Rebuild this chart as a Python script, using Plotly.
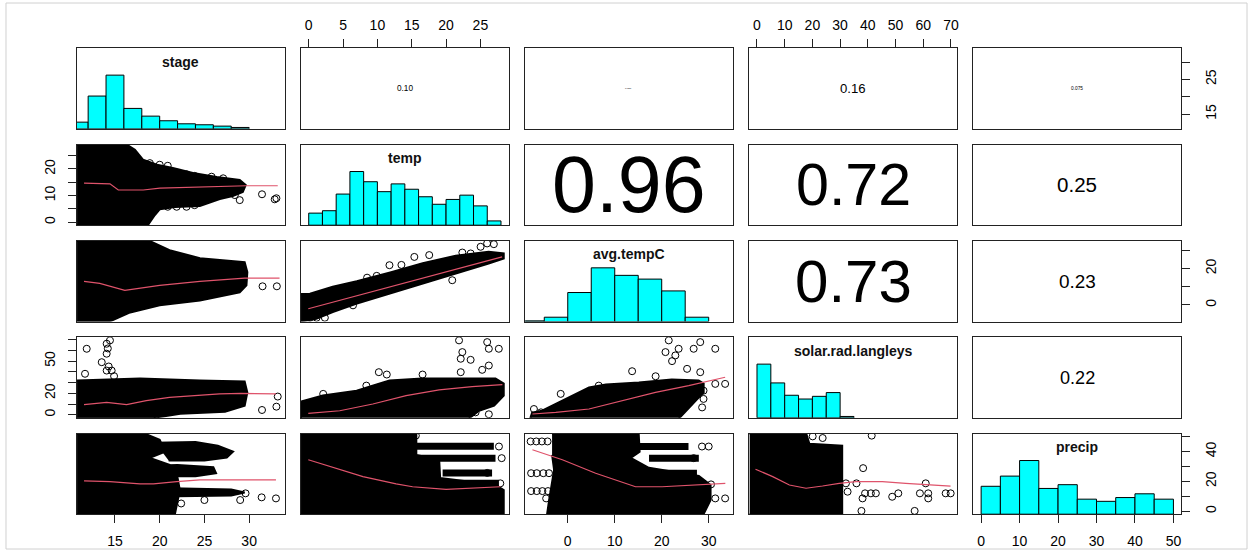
import plotly.graph_objects as go

W, H = 1252, 552
FONT = "Liberation Sans, Arial, sans-serif"

# ---------------- variables ----------------
var_names = ["stage", "temp", "avg.tempC", "solar.rad.langleys", "precip"]
var_min = [11.6, 0.0, -7.43, 0.0, 0.0]
var_max = [33.1, 28.0, 33.5, 69.4, 50.0]

# axis ticks
stage_ticks = [15, 20, 25, 30]
temp_ticks = [0, 5, 10, 15, 20, 25]
avg_ticks = [0, 10, 20, 30]
solar_ticks = [0, 10, 20, 30, 40, 50, 60, 70]
precip_ticks = [0, 10, 20, 30, 40, 50]
# labels that survive R's overlap check on the vertical axes
stage_vlabels = [15, 25]
temp_vlabels = [0, 10, 20]
avg_vlabels = [0, 20]
solar_vlabels = [0, 20, 50]
precip_vlabels = [0, 20, 40]

# ---------------- histograms (heights relative to the tallest bar) ----------------
stage_edges = [10, 12, 14, 16, 18, 20, 22, 24, 26, 28, 30]
stage_hist = [0.124, 0.61, 1.0, 0.38, 0.236, 0.15, 0.093, 0.075, 0.05, 0.025]
temp_edges = [0, 2, 4, 6, 8, 10, 12, 14, 16, 18, 20, 22, 24, 26, 28]
temp_hist = [0.225, 0.27, 0.58, 1.0, 0.81, 0.625, 0.77, 0.67, 0.53, 0.39, 0.48, 0.56, 0.36, 0.08]
avg_edges = [-10, -5, 0, 5, 10, 15, 20, 25, 30]
avg_hist = [0.012, 0.08, 0.54, 1.0, 0.86, 0.79, 0.57, 0.08]
solar_edges = [0, 5, 10, 15, 20, 25, 30, 35]
solar_hist = [1.0, 0.65, 0.42, 0.35, 0.40, 0.47, 0.025]
precip_edges = [0, 5, 10, 15, 20, 25, 30, 35, 40, 45, 50]
precip_hist = [0.52, 0.71, 1.0, 0.48, 0.55, 0.28, 0.24, 0.31, 0.38, 0.28]

# ---------------- correlations (upper panels) ----------------
cor_row = [0, 0, 0, 0, 1, 1, 1, 2, 2, 3]
cor_col = [1, 2, 3, 4, 2, 3, 4, 3, 4, 4]
cor_value = [0.10, 0.038, 0.16, 0.075, 0.96, 0.72, 0.25, 0.73, 0.23, 0.22]
cor_text = ["0.10", "0.038", "0.16", "0.075", "0.96", "0.72", "0.25", "0.73", "0.23", "0.22"]

# ---------------- scatter panels: dense cores, single points, lowess ----------------
# temp vs stage
ts_core_x = [10.76, 16.34, 17.23, 18.13, 19.69, 21.47, 23.71, 26.38, 28.95, 29.62, 29.29, 28.17, 26.72, 24.49, 21.70, 20.02, 19.46, 18.91, 18.68, 10.76]
ts_core_y = [29.1, 29.1, 27.2, 23.5, 21.6, 20.4, 18.5, 17.0, 15.9, 14.0, 11.4, 9.8, 8.7, 6.1, 5.7, 4.9, 2.7, 0.0, -1.1, -1.1]
ts_pts_x = [31.44, 33.05, 32.86, 28.95, 28.4, 27.1, 25.8, 27.1, 25.8, 23.9, 23.0, 20.0, 20.9, 18.9, 16.3, 16.7, 23.9, 23.0, 21.9, 20.9, 26.2, 27.5, 17.4, 16.9]
ts_pts_y = [10.5, 9.0, 8.6, 8.3, 10.2, 10.9, 11.5, 16.5, 17.1, 17.4, 18.0, 21.6, 21.2, 22.2, 27.2, 26.0, 6.4, 5.8, 5.8, 5.8, 13.4, 13.4, 0.8, 2.7]
ts_low_x = [11.54, 14.44, 15.37, 18.16, 20.02, 23.0, 25.6, 28.2, 29.7, 33.2]
ts_low_y = [14.65, 14.4, 12.1, 12.1, 12.8, 13.1, 13.4, 13.7, 13.7, 13.7]

# avg.tempC vs stage
as_core_x = [10.76, 18.9, 21.1, 24.5, 29.5, 29.8, 29.7, 28.95, 24.5, 20.0, 16.7, 14.4, 10.76]
as_core_y = [35.1, 35.1, 30.1, 25.7, 23.5, 18.0, 10.8, 6.9, 2.5, -0.2, -4.1, -9.07, -9.07]
as_pts_x = [31.5, 33.1]
as_pts_y = [10.26, 10.26]
as_low_x = [11.54, 13.3, 16.1, 20.0, 24.5, 29.5, 33.4]
as_low_y = [13.0, 11.9, 8.05, 10.8, 13.0, 14.7, 14.7]

# avg.tempC vs temp
at_core_x = [-1.12, 0.18, 3.5, 7.0, 12.0, 16.6, 21.4, 26.2, 28.4, 28.4, 26.2, 21.4, 16.6, 11.8, 6.9, 3.5, 1.1, -1.12]
at_core_y = [6.0, 6.2, 10.0, 13.0, 18.0, 23.0, 27.0, 29.2, 28.3, 25.5, 22.8, 17.3, 11.8, 6.2, 0.7, -3.9, -7.6, -9.07]
at_pts_x = [0.18, 2.35, 1.15, 6.45, 20.9, 11.76, 15.38, 17.55, 22.37, 23.58, 25.03, 25.98, 26.96, 8.5, 9.9, 13.5]
at_pts_y = [-7.0, -7.0, -7.0, -0.2, 13.6, 21.85, 26.4, 27.4, 28.8, 28.3, 31.96, 33.8, 33.4, 15.0, 16.0, 22.0]
at_low_x = [-0.06, 14.18, 28.16]
at_low_y = [-2.06, 12.3, 26.43]

# solar vs stage
ss_core_x = [10.76, 17.8, 24.5, 29.5, 29.8, 29.5, 27.3, 22.3, 19.5, 10.76]
ss_core_y = [31.9, 33.8, 31.9, 31.0, 20.7, 8.5, 2.9, 1.0, -2.7, -2.7]
ss_pts_x = [11.84, 14.44, 14.07, 14.2, 14.07, 13.52, 14.07, 14.63, 11.65, 33.2, 33.05, 31.44, 19.65, 14.3, 14.9]
ss_pts_y = [61.5, 69.3, 66.2, 61.8, 56.9, 49.0, 41.2, 41.2, 38.2, 17.0, 7.6, 4.5, 0.1, 45.0, 36.0]
ss_low_x = [11.54, 14.07, 16.3, 18.5, 21.1, 23.7, 26.7, 29.1, 33.0]
ss_low_y = [9.5, 11.6, 9.5, 13.2, 16.3, 17.9, 19.5, 20.0, 19.5]

# solar vs temp
st_core_x = [-1.12, -1.12, 2.06, 6.98, 9.3, 11.76, 16.54, 27.2, 28.4, 28.4, 27.0, 24.8, 23.3]
st_core_y = [-3.6, 12.26, 17.9, 22.5, 27.2, 31.9, 33.8, 33.8, 29.1, 17.9, 8.5, 3.8, -3.6]
st_pts_x = [21.89, 25.99, 27.68, 26.23, 22.37, 22.14, 23.58, 10.21, 11.37, 16.58, 22.14, 25.26, 26.23, 2.11, 8.39, 26.23, 24.3, 25.26, 26.71, 27.43]
st_pts_y = [69.3, 67.7, 61.5, 61.5, 58.4, 52.2, 51.2, 39.7, 37.5, 37.5, 39.7, 41.9, 45.9, 19.5, 27.2, 0.5, 2.3, 8.5, 13.2, 25.6]
st_low_x = [-0.06, 4.52, 9.34, 14.18, 19.0, 23.8, 28.2]
st_low_y = [1.3, 3.8, 10.1, 17.9, 23.2, 26.3, 28.2]

# solar vs avg.tempC
sa_core_x = [-8.01, -7.58, -5.46, -2.49, 0.91, 4.52, 8.13, 15.13, 22.14, 27.87, 28.93, 28.93, 27.87, 25.75, 23.63]
sa_core_y = [-3.6, 2.0, 3.8, 10.4, 17.9, 25.4, 28.2, 30.0, 32.9, 31.9, 29.1, 20.7, 16.0, 6.65, -3.6]
sa_pts_x = [21.5, 28.2, 31.4, 26.8, 23.6, 20.8, 22.9, 22.2, 13.7, 18.7, 25.4, 28.2, 6.6, -1.5, 28.9, 31.4, 33.5, 28.9, 28.6, -7.2, -5.7]
sa_pts_y = [69.3, 67.7, 61.5, 61.5, 61.5, 58.4, 55.3, 50.0, 40.6, 35.9, 42.8, 39.7, 27.2, 19.5, 22.5, 28.8, 28.8, 14.8, 6.9, 5.4, 2.3]
sa_low_x = [-7.52, -2.55, 4.52, 11.59, 18.68, 25.75, 33.5]
sa_low_y = [0.76, 2.26, 5.4, 13.2, 20.96, 27.2, 35.0]

# precip vs stage
ps_core_x = [10.76, 18.35, 20.0, 20.6, 18.9, 21.1, 22.0, 22.25, 21.7, 10.76]
ps_core_y = [52.0, 52.0, 48.0, 39.9, 35.8, 31.1, 22.3, 14.2, -2.0, -2.0]
ps_core2_x = [19.5, 24.0, 26.5, 28.2, 27.5, 25.0, 21.0]
ps_core2_y = [46.0, 46.5, 44.0, 40.0, 36.0, 34.0, 34.0]
ps_core3_x = [19.0, 22.0, 26.0, 26.3, 24.0, 20.0]
ps_core3_y = [30.5, 31.0, 29.5, 25.5, 23.5, 23.5]
ps_core4_x = [20.0, 24.0, 28.0, 29.5, 28.0, 22.0, 20.0]
ps_core4_y = [15.5, 15.0, 14.5, 12.5, 10.5, 10.0, 10.5]
ps_pts_x = [31.4, 33.0, 25.0, 29.0, 22.4, 29.6]
ps_pts_y = [9.3, 8.6, 7.5, 7.5, 5.2, 12.0]
ps_low_x = [11.54, 14.44, 17.8, 19.3, 21.9, 24.5, 33.0]
ps_low_y = [20.3, 19.8, 18.3, 18.3, 19.8, 21.0, 21.0]

# precip vs temp
pt_core_x = [-1.12, 15.67, 15.67, 19.0, 19.14, 27.24, 28.4, 28.4, -1.12]
pt_core_y = [52.0, 52.0, 37.8, 34.5, 22.3, 17.6, 14.2, -2.0, -2.0]
pt_band_y = [43.6, 35.6, 25.7, 18.7]
pt_band_x0 = [15.1, 15.1, 19.5, 19.0]
pt_band_x1 = [26.96, 27.2, 26.7, 27.7]
pt_pts_x = [27.9, 27.2, 15.6, 27.7, 28.1, 26.0]
pt_pts_y = [18.7, 10.8, 50.7, 43.4, 35.6, 25.7]
pt_low_x = [-0.06, 3.08, 7.90, 12.73, 15.13, 20.0, 24.8, 27.9]
pt_low_y = [34.5, 29.9, 23.2, 18.3, 16.4, 14.7, 16.0, 16.4]

# precip vs avg.tempC
pa_core_x = [-3.34, 15.1, 15.3, 13.4, 17.26, 27.9, 30.4, 30.4, 28.9, -4.4, -3.97, -3.34, -2.91, -3.34]
pa_core_y = [52.0, 52.0, 39.9, 35.8, 29.1, 23.7, 17.6, 7.45, -2.0, -2.0, 7.45, 20.96, 27.7, 37.8]
pa_band_y = [43.4, 35.6, 25.5]
pa_band_x0 = [15.1, 17.3, 16.55]
pa_band_x1 = [25.7, 27.9, 27.5]
pa_pts_x = [-7.9, -6.7, -5.5, -4.3, -7.8, -6.6, -5.2, -4.0, -7.8, -6.6, -5.4, -4.2, -3.0, -4.6,
            28.57, 30.0, 26.8, 28.6, 31.4, 33.5, 27.9, 30.5]
pa_pts_y = [46.8, 46.8, 46.8, 46.8, 25.5, 25.5, 25.5, 25.5, 13.5, 13.5, 13.5, 13.5, 13.5, 8.6,
            43.4, 43.4, 35.6, 18.7, 8.6, 8.6, 10.8, 18.0]
pa_low_x = [-7.52, -1.15, 5.94, 14.43, 20.08, 23.63, 27.17, 33.54]
pa_low_y = [41.2, 34.5, 25.5, 16.4, 16.4, 16.9, 17.6, 18.7]

# precip vs solar
pr_core_x = [-2.7, 17.8, 18.9, 30.75, 30.75, -2.7]
pr_core_y = [52.0, 52.0, 45.3, 43.9, -2.0, -2.0]
pr_pts_x = [41.4, 38.3, 35.9, 32.1, 32.7, 38.1, 39.0, 41.1, 42.9, 48.8, 51.0, 58.8, 61.8, 61.8, 60.9, 68.1, 69.9, 37.7, 56.9, 20.1, 23.7]
pr_pts_y = [50.7, 28.9, 18.7, 18.7, 13.1, 8.6, 12.0, 12.0, 12.0, 9.7, 12.0, 12.0, 12.0, 8.6, 18.7, 12.0, 12.0, 0.2, 0.2, 50.2, 49.1]
pr_low_x = [-0.54, 5.68, 11.69, 17.7, 23.67, 29.67, 35.68, 45.25, 53.67, 65.65, 69.86]
pr_low_y = [28.2, 23.2, 17.6, 15.4, 16.9, 18.7, 19.8, 19.8, 18.7, 17.6, 16.9]

# ---------------- assemble ----------------
hists = [(stage_edges, stage_hist), (temp_edges, temp_hist), (avg_edges, avg_hist),
         (solar_edges, solar_hist), (precip_edges, precip_hist)]

lower = [
    (1, 0, [(ts_core_x, ts_core_y)], [], (ts_pts_x, ts_pts_y), (ts_low_x, ts_low_y)),
    (2, 0, [(as_core_x, as_core_y)], [], (as_pts_x, as_pts_y), (as_low_x, as_low_y)),
    (2, 1, [(at_core_x, at_core_y)], [], (at_pts_x, at_pts_y), (at_low_x, at_low_y)),
    (3, 0, [(ss_core_x, ss_core_y)], [], (ss_pts_x, ss_pts_y), (ss_low_x, ss_low_y)),
    (3, 1, [(st_core_x, st_core_y)], [], (st_pts_x, st_pts_y), (st_low_x, st_low_y)),
    (3, 2, [(sa_core_x, sa_core_y)], [], (sa_pts_x, sa_pts_y), (sa_low_x, sa_low_y)),
    (4, 0, [(ps_core_x, ps_core_y), (ps_core2_x, ps_core2_y), (ps_core3_x, ps_core3_y), (ps_core4_x, ps_core4_y)],
     [], (ps_pts_x, ps_pts_y), (ps_low_x, ps_low_y)),
    (4, 1, [(pt_core_x, pt_core_y)], list(zip(pt_band_y, pt_band_x0, pt_band_x1)), (pt_pts_x, pt_pts_y), (pt_low_x, pt_low_y)),
    (4, 2, [(pa_core_x, pa_core_y)], list(zip(pa_band_y, pa_band_x0, pa_band_x1)), (pa_pts_x, pa_pts_y), (pa_low_x, pa_low_y)),
    (4, 3, [(pr_core_x, pr_core_y)], [], (pr_pts_x, pr_pts_y), (pr_low_x, pr_low_y)),
]

col_left = [77, 301.5, 526, 750.5, 975]
row_top = [48.3, 144.7, 241, 337.3, 433.7]
PW, PH = 208, 80.5


def rng(v):
    d = (var_max[v] - var_min[v]) * 0.04
    return [var_min[v] - d, var_max[v] + d]


def sfx(k):
    return "" if k == 1 else str(k)


def ax_ids(i, j):
    k = i * 5 + j + 1
    return "x" + sfx(k), "y" + sfx(k)


fig = go.Figure()
LOWESS = "#DF536B"

# diagonal histograms
for v, (edges, h) in enumerate(hists):
    xa, ya = ax_ids(v, v)
    centers = [(edges[n] + edges[n + 1]) / 2 for n in range(len(h))]
    widths = [edges[n + 1] - edges[n] for n in range(len(h))]
    fig.add_trace(go.Bar(x=centers, y=h, width=widths, xaxis=xa, yaxis=ya,
                         marker=dict(color="#00FFFF", line=dict(color="black", width=1)),
                         hoverinfo="skip"))

# lower scatter panels
for (i, j, cores, bands, pts, low) in lower:
    xa, ya = ax_ids(i, j)
    for cx, cy in cores:
        fig.add_trace(go.Scatter(x=cx, y=cy, mode="lines", fill="toself", fillcolor="black",
                                 line=dict(color="black", width=2), xaxis=xa, yaxis=ya, hoverinfo="skip"))
    for by, bx0, bx1 in bands:
        fig.add_trace(go.Scatter(x=[bx0, bx1], y=[by, by], mode="lines",
                                 line=dict(color="black", width=7), xaxis=xa, yaxis=ya, hoverinfo="skip"))
    fig.add_trace(go.Scatter(x=pts[0], y=pts[1], mode="markers", xaxis=xa, yaxis=ya, hoverinfo="skip",
                             marker=dict(symbol="circle-open", size=7, color="black", line=dict(width=1))))
    fig.add_trace(go.Scatter(x=low[0], y=low[1], mode="lines", xaxis=xa, yaxis=ya, hoverinfo="skip",
                             line=dict(color=LOWESS, width=1.2)))

# dummy trace so the overlay axis for the precip row is drawn
fig.add_trace(go.Scatter(x=[None], y=[None], xaxis="x25", yaxis="y26", hoverinfo="skip"))

layout = dict(width=W, height=H, margin=dict(l=0, r=0, t=0, b=0), autosize=False,
              paper_bgcolor="white", plot_bgcolor="white", showlegend=False,
              hovermode=False, font=dict(family=FONT, color="black"))

frame = dict(showgrid=False, zeroline=False, showline=True, mirror=True, linecolor="#222222",
             linewidth=1, ticks="", showticklabels=False, fixedrange=True)
tickstyle = dict(ticks="outside", ticklen=8, tickwidth=1, tickcolor="#222222", showticklabels=True,
                 tickfont=dict(family=FONT, size=14, color="black"))

for i in range(5):
    for j in range(5):
        k = i * 5 + j + 1
        x0, y0 = col_left[j], row_top[i]
        layout["xaxis" + sfx(k)] = dict(domain=[x0 / W, (x0 + PW) / W], range=rng(j),
                                        anchor="y" + sfx(k), **frame)
        layout["yaxis" + sfx(k)] = dict(domain=[1 - (y0 + PH) / H, 1 - y0 / H],
                                        range=[0, 1.5] if i == j else rng(i),
                                        anchor="x" + sfx(k), **frame)

all_ticks = [stage_ticks, temp_ticks, avg_ticks, solar_ticks, precip_ticks]
all_vlabels = [stage_vlabels, temp_vlabels, avg_vlabels, solar_vlabels, precip_vlabels]

# top axes (temp, solar)
for j in [1, 3]:
    k = j + 1
    layout["xaxis" + sfx(k)].update(side="top", tickvals=all_ticks[j],
                                    ticktext=[str(t) for t in all_ticks[j]],
                                    ticklabelstandoff=4, **tickstyle)
# bottom axes (stage, avg.tempC, precip)
for j in [0, 2, 4]:
    k = 20 + j + 1
    layout["xaxis" + sfx(k)].update(side="bottom", tickvals=all_ticks[j],
                                    ticktext=[str(t) for t in all_ticks[j]],
                                    ticklabelstandoff=6, **tickstyle)
# left axes (temp, solar)
for i in [1, 3]:
    k = i * 5 + 1
    layout["yaxis" + sfx(k)].update(side="left", tickangle=-90, tickvals=all_ticks[i],
                                    ticktext=[str(t) if t in all_vlabels[i] else "" for t in all_ticks[i]],
                                    ticklabelstandoff=7, **tickstyle)
# right axes (stage, avg.tempC)
for i in [0, 2]:
    k = i * 5 + 5
    layout["yaxis" + sfx(k)].update(side="right", tickangle=-90, tickvals=all_ticks[i],
                                    ticktext=[str(t) if t in all_vlabels[i] else "" for t in all_ticks[i]],
                                    ticklabelstandoff=9, **tickstyle)
# right axis for precip row sits on the histogram panel -> overlay axis
layout["yaxis26"] = dict(overlaying="y25", side="right", anchor="x25", range=rng(4),
                         showgrid=False, zeroline=False, showline=False, fixedrange=True,
                         tickangle=-90, tickvals=precip_ticks,
                         ticktext=[str(t) if t in precip_vlabels else "" for t in precip_ticks],
                         ticklabelstandoff=9, **tickstyle)

annotations = []
# variable names on the diagonal
for v in range(5):
    xa, ya = ax_ids(v, v)
    r = rng(v)
    annotations.append(dict(x=(r[0] + r[1]) / 2, y=1.25, xref=xa, yref=ya, text="<b>%s</b>" % var_names[v],
                            showarrow=False, font=dict(family=FONT, size=14, color="#111111")))

# correlation text, width proportional to r (R panel.cor style)
EM = {"0": 0.556, "1": 0.556, "2": 0.556, "3": 0.556, "4": 0.556, "5": 0.556,
      "6": 0.556, "7": 0.556, "8": 0.556, "9": 0.556, ".": 0.278}
for n in range(len(cor_value)):
    i, j = cor_row[n], cor_col[n]
    xa, ya = ax_ids(i, j)
    rx, ry = rng(j), rng(i)
    em = sum(EM[c] for c in cor_text[n])
    size = max(1.0, 160.0 * cor_value[n] / em)
    annotations.append(dict(x=(rx[0] + rx[1]) / 2, y=(ry[0] + ry[1]) / 2, xref=xa, yref=ya,
                            text=cor_text[n], showarrow=False,
                            font=dict(family=FONT, size=size, color="black")))
layout["annotations"] = annotations

layout["shapes"] = [dict(type="rect", xref="paper", yref="paper", x0=6 / W, x1=1249 / W,
                         y0=1 - 549 / H, y1=1 - 3 / H, line=dict(color="#d0d0d0", width=1),
                         fillcolor="rgba(0,0,0,0)", layer="below")]

fig.update_layout(**layout)
fig.write_html("out.html", config={"displayModeBar": False},
               post_script="document.body.style.margin='0px';document.body.style.overflow='hidden';")
